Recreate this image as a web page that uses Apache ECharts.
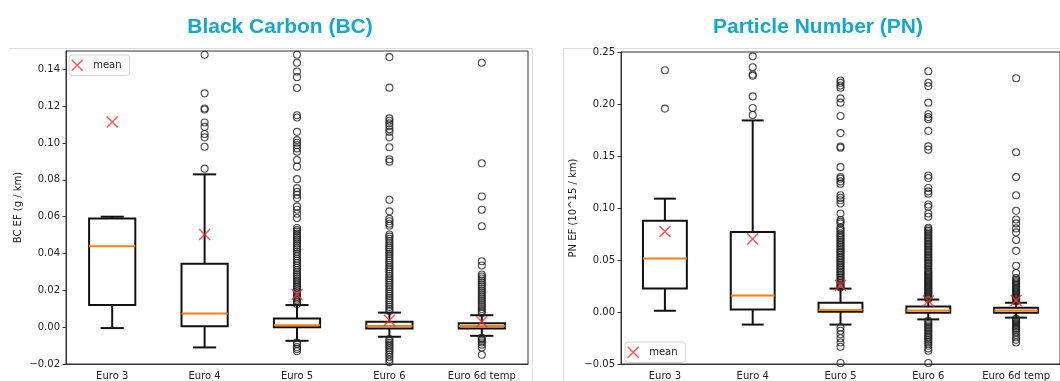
<!DOCTYPE html>
<html>
<head>
<meta charset="utf-8">
<script src="https://cdn.jsdelivr.net/npm/echarts@6/dist/echarts.min.js"></script>
<style>
  html, body { margin: 0; padding: 0; background: #fff; }
  #chart { width: 1060px; height: 381px; }
</style>
</head>
<body>
<div id="chart"></div>
<script>
// categories shared by both panels
const categories = ["Euro 3", "Euro 4", "Euro 5", "Euro 6", "Euro 6d temp"];

// Black Carbon box stats (g / km)
const bcLow  = [-0.0005, -0.011, -0.0074, -0.0052, -0.0047];
const bcQ1   = [0.012, 0.0005, 0.0, -0.0007, -0.0007];
const bcMed  = [0.044, 0.0074, 0.0011, 0.0007, 0.0007];
const bcQ3   = [0.059, 0.0344, 0.0047, 0.003, 0.0022];
const bcHigh = [0.060, 0.083, 0.012, 0.0079, 0.0065];
const bcMean = [0.1115, 0.0503, 0.0178, 0.0038, 0.0029];

// Black Carbon outliers per category
const bcOutEuro3 = [];
const bcOutEuro4 = [0.148, 0.127, 0.1188, 0.1182, 0.1112, 0.1088, 0.1049, 0.1031, 0.098, 0.0861];
const bcOutEuro5 = [0.148, 0.1436, 0.1389, 0.1358, 0.1299, 0.1151, 0.1139, 0.1061, 0.1016, 0.1002,
  0.0989, 0.0971, 0.0953, 0.0908, 0.0872, 0.0804, 0.0755, 0.0735, 0.0719, 0.0701, 0.0656, 0.0638,
  0.0616, 0.0593, 0.0539, 0.0528, 0.0519, 0.0508, 0.0497, 0.0486, 0.0476, 0.0465, 0.0454, 0.0443,
  0.0432, 0.0422, 0.041, 0.0398, 0.0385, 0.0372, 0.036, 0.0348, 0.0335, 0.0322, 0.031, 0.0298,
  0.0287, 0.0276, 0.0265, 0.0255, 0.0246, 0.0236, 0.0226, 0.0216, 0.0205, 0.0195, 0.0185, 0.0175,
  0.0165, 0.0155, 0.0145, 0.0135, 0.0126,
  -0.0083, -0.0092, -0.0108, -0.0118, -0.013];
const bcOutEuro6 = [0.1467, 0.1301, 0.1134, 0.1121, 0.1107, 0.1092, 0.1075, 0.1061, 0.1031, 0.0977,
  0.0912, 0.0899, 0.0692, 0.0629, 0.0588, 0.0575, 0.0562, 0.0551, 0.0503, 0.0492, 0.048, 0.0468,
  0.0456, 0.0444, 0.0432, 0.0422, 0.041, 0.0398, 0.0386, 0.0374, 0.0362, 0.035, 0.0338, 0.0326,
  0.0314, 0.0302, 0.029, 0.0278, 0.0266, 0.0254, 0.0242, 0.023, 0.0218, 0.0206, 0.0194, 0.0182,
  0.017, 0.0158, 0.0146, 0.0134, 0.0122, 0.011, 0.0098, 0.0088,
  -0.0065, -0.0075, -0.0085, -0.0095, -0.0105, -0.0115, -0.0125, -0.0135, -0.0148, -0.0162,
  -0.0176, -0.019];
const bcOutEuro6d = [0.1436, 0.089, 0.071, 0.0638, 0.0548, 0.0358, 0.0335, 0.0286, 0.0275, 0.0264,
  0.0253, 0.0242, 0.0231, 0.022, 0.0209, 0.0198, 0.0187, 0.0176, 0.0165, 0.0154, 0.0143, 0.0132,
  0.0121, 0.011, 0.0099, 0.0088, 0.0077,
  -0.0058, -0.0065, -0.0074, -0.0083, -0.0095, -0.011, -0.015];

// Particle Number box stats (10^15 / km)
const pnLow  = [0.0012, -0.0121, -0.0121, -0.0071, -0.0054];
const pnQ1   = [0.0225, 0.0025, 0.0003, -0.0007, -0.0007];
const pnMed  = [0.0515, 0.0158, 0.0019, 0.0015, 0.0015];
const pnQ3   = [0.0878, 0.0769, 0.0089, 0.0054, 0.0041];
const pnHigh = [0.109, 0.1842, 0.0225, 0.012, 0.0089];
const pnMean = [0.0773, 0.0702, 0.0254, 0.0105, 0.0111];

// Particle Number outliers per category
const pnOutEuro3 = [0.2325, 0.1956];
const pnOutEuro4 = [0.2458, 0.2353, 0.2283, 0.2271, 0.2073, 0.1962, 0.1895];
const pnOutEuro5 = [0.2226, 0.2204, 0.2178, 0.2156, 0.2054, 0.2013, 0.1885, 0.172, 0.159, 0.158,
  0.1393, 0.1298, 0.1282, 0.1256, 0.1234, 0.1122, 0.1097, 0.1074, 0.1043, 0.0947, 0.0884, 0.0868,
  0.0852, 0.0811, 0.0795, 0.0779, 0.0757, 0.074, 0.0725, 0.0709, 0.0693, 0.0677, 0.0661, 0.0645,
  0.063, 0.0613, 0.0597, 0.0582, 0.0566, 0.055, 0.0534, 0.0518, 0.0502, 0.0486, 0.047, 0.0455,
  0.0439, 0.0422, 0.0406, 0.039, 0.0375, 0.036, 0.0344, 0.0328, 0.0311, 0.0296, 0.028, 0.0264,
  0.0248, 0.0236,
  -0.015, -0.018, -0.0214, -0.0252, -0.0293, -0.0334, -0.049];
const pnOutEuro6 = [0.2315, 0.2204, 0.2172, 0.2013, 0.1902, 0.1874, 0.1854, 0.1742, 0.1593, 0.1561,
  0.1313, 0.1288, 0.1193, 0.116, 0.1138, 0.1033, 0.1011, 0.0947, 0.0916, 0.081, 0.0795, 0.078,
  0.0765, 0.075, 0.0735, 0.072, 0.0705, 0.069, 0.0675, 0.066, 0.0645, 0.063, 0.0615, 0.06, 0.0585,
  0.057, 0.0555, 0.054, 0.0525, 0.051, 0.0495, 0.048, 0.0465, 0.045, 0.0435, 0.042, 0.0405, 0.039,
  0.0378, 0.0366, 0.0354, 0.0342, 0.033, 0.0318, 0.0306, 0.0294, 0.0282, 0.027, 0.0258, 0.0246,
  0.0234, 0.0222, 0.021, 0.0198, 0.0186, 0.0174, 0.0162, 0.015, 0.0138, 0.0126,
  -0.0085, -0.01, -0.0115, -0.013, -0.0145, -0.016, -0.0175, -0.019, -0.0205, -0.022, -0.0235,
  -0.025, -0.0268, -0.0285, -0.0305, -0.0325, -0.035, -0.0372, -0.049];
const pnOutEuro6d = [0.2248, 0.1536, 0.1298, 0.1122, 0.0973, 0.089, 0.0852, 0.0804, 0.0766, 0.0693,
  0.0588, 0.0445, 0.0375, 0.0327, 0.0312, 0.0298, 0.0285, 0.0272, 0.026, 0.0248, 0.0236, 0.0224,
  0.0212, 0.02, 0.0188, 0.0176, 0.0164, 0.0153, 0.0142, 0.0131, 0.012, 0.011, 0.01,
  -0.0065, -0.0078, -0.009, -0.0102, -0.0114, -0.0126, -0.0138, -0.015, -0.0162, -0.0175, -0.0195,
  -0.022, -0.0245, -0.0268, -0.0293];

// tick labels
const bcTicks = [-0.02, 0.0, 0.02, 0.04, 0.06, 0.08, 0.10, 0.12, 0.14];
const pnTicks = [-0.05, 0.0, 0.05, 0.10, 0.15, 0.20, 0.25];

const bcOutliers = [bcOutEuro3, bcOutEuro4, bcOutEuro5, bcOutEuro6, bcOutEuro6d];
const pnOutliers = [pnOutEuro3, pnOutEuro4, pnOutEuro5, pnOutEuro6, pnOutEuro6d];

const FONT = "DejaVu Sans";
const MEAN_RED = "#ff2a2a";
const X_PATH = "path://M0,0L10,10M10,0L0,10";

function boxRows(low, q1, med, q3, high) {
  return categories.map((c, i) => [i, low[i], q1[i], med[i], q3[i], high[i]]);
}

function pointRows(groups) {
  const rows = [];
  groups.forEach((vals, i) => vals.forEach(v => rows.push([i, v])));
  return rows;
}

function renderBox(params, api) {
  const i = api.value(0);
  const low = api.coord([i, api.value(1)]);
  const q1 = api.coord([i, api.value(2)]);
  const med = api.coord([i, api.value(3)]);
  const q3 = api.coord([i, api.value(4)]);
  const high = api.coord([i, api.value(5)]);
  const band = api.size([1, 0])[0];
  const x = low[0];
  const half = band * 0.25;
  const cap = band * 0.125;
  const ink = { stroke: "#111", lineWidth: 2, fill: null };
  return {
    type: "group",
    children: [
      { type: "line", shape: { x1: x, y1: high[1], x2: x, y2: q3[1] }, style: ink },
      { type: "line", shape: { x1: x, y1: q1[1], x2: x, y2: low[1] }, style: ink },
      { type: "line", shape: { x1: x - cap, y1: high[1], x2: x + cap, y2: high[1] }, style: ink },
      { type: "line", shape: { x1: x - cap, y1: low[1], x2: x + cap, y2: low[1] }, style: ink },
      { type: "rect", shape: { x: x - half, y: q3[1], width: half * 2, height: q1[1] - q3[1] }, style: ink },
      { type: "line", shape: { x1: x - half, y1: med[1], x2: x + half, y2: med[1] },
        style: { stroke: "#ff7f0e", lineWidth: 2 } }
    ]
  };
}

function tickFmt(v) {
  return v.toFixed(2).replace("-", "\u2212");
}

function makeX(gridIndex) {
  return {
    type: "category",
    gridIndex: gridIndex,
    data: categories,
    axisLine: { onZero: false, lineStyle: { color: "#333", width: 1 } },
    axisTick: { alignWithLabel: true, length: 3.5, lineStyle: { color: "#333" } },
    axisLabel: { interval: 0, fontFamily: FONT, fontSize: 10, color: "#222", margin: 7 }
  };
}

function makeY(gridIndex, min, max, ticks, name) {
  return {
    type: "value",
    gridIndex: gridIndex,
    min: min,
    max: max,
    name: name,
    nameLocation: "middle",
    nameGap: 43,
    nameTextStyle: { fontFamily: FONT, fontSize: 10, color: "#222" },
    splitLine: { show: false },
    axisLine: { show: true, lineStyle: { color: "#333", width: 1 } },
    axisTick: { show: true, length: 3.5, lineStyle: { color: "#333" }, customValues: ticks },
    axisLabel: { fontFamily: FONT, fontSize: 10, color: "#222", margin: 6,
      customValues: ticks, formatter: tickFmt }
  };
}

function meanLegend(left, top) {
  return {
    left: left,
    top: top,
    orient: "vertical",
    padding: [4, 8, 4, 2],
    itemWidth: 22,
    itemHeight: 11,
    backgroundColor: "rgba(255,255,255,0.85)",
    borderColor: "#d0d0d0",
    borderWidth: 1,
    borderRadius: 3,
    selectedMode: false,
    textStyle: { fontFamily: FONT, fontSize: 10, color: "#222" },
    data: [{
      name: "mean",
      icon: X_PATH,
      itemStyle: { color: "rgba(0,0,0,0)", borderColor: MEAN_RED, borderWidth: 1.4 }
    }]
  };
}

const chart = echarts.init(document.getElementById("chart"), null, { renderer: "canvas" });

chart.setOption({
  animation: false,
  backgroundColor: "#fff",
  title: [
    { text: "Black Carbon (BC)", left: 280, top: 17, textAlign: "center", padding: 0,
      textStyle: { fontFamily: "Liberation Sans", fontSize: 21, fontWeight: "bold", color: "#19a7c9" } },
    { text: "Particle Number (PN)", left: 818, top: 17, textAlign: "center", padding: 0,
      textStyle: { fontFamily: "Liberation Sans", fontSize: 21, fontWeight: "bold", color: "#19a7c9" } }
  ],
  graphic: [
    { type: "polyline", silent: true, shape: { points: [[9, 48.5], [532.5, 48.5], [532.5, 381]] },
      style: { stroke: "#dcdcdc", lineWidth: 1, fill: null } },
    { type: "polyline", silent: true, shape: { points: [[563.5, 381], [563.5, 48.5], [1060, 48.5]] },
      style: { stroke: "#dcdcdc", lineWidth: 1, fill: null } }
  ],
  legend: [meanLegend(69, 55), meanLegend(625, 342)],
  grid: [
    { left: 66, top: 51, width: 462, height: 314, show: true, borderColor: "#333", borderWidth: 1,
      backgroundColor: "transparent" },
    { left: 621, top: 52, width: 449, height: 315, show: true, borderColor: "#333", borderWidth: 1,
      backgroundColor: "transparent" }
  ],
  xAxis: [makeX(0), makeX(1)],
  yAxis: [
    makeY(0, -0.02, 0.15, bcTicks, "BC EF (g / km)"),
    makeY(1, -0.05, 0.25, pnTicks, "PN EF (10^15 / km)")
  ],
  series: [
    {
      type: "custom", name: "bcBox", xAxisIndex: 0, yAxisIndex: 0, z: 2,
      renderItem: renderBox, encode: { x: 0, y: [1, 2, 3, 4, 5] },
      data: boxRows(bcLow, bcQ1, bcMed, bcQ3, bcHigh)
    },
    {
      type: "scatter", name: "bcOut", xAxisIndex: 0, yAxisIndex: 0, z: 3,
      symbol: "circle", symbolSize: 7,
      itemStyle: { color: "rgba(0,0,0,0)", borderColor: "#222", borderWidth: 1.1 },
      data: pointRows(bcOutliers)
    },
    {
      type: "scatter", name: "mean", xAxisIndex: 0, yAxisIndex: 0, z: 4,
      symbol: X_PATH, symbolSize: 11,
      itemStyle: { color: "rgba(0,0,0,0)", borderColor: MEAN_RED, borderWidth: 1.4 },
      data: bcMean.map((v, i) => [i, v])
    },
    {
      type: "custom", name: "pnBox", xAxisIndex: 1, yAxisIndex: 1, z: 2,
      renderItem: renderBox, encode: { x: 0, y: [1, 2, 3, 4, 5] },
      data: boxRows(pnLow, pnQ1, pnMed, pnQ3, pnHigh)
    },
    {
      type: "scatter", name: "pnOut", xAxisIndex: 1, yAxisIndex: 1, z: 3,
      symbol: "circle", symbolSize: 7,
      itemStyle: { color: "rgba(0,0,0,0)", borderColor: "#222", borderWidth: 1.1 },
      data: pointRows(pnOutliers)
    },
    {
      type: "scatter", name: "mean", xAxisIndex: 1, yAxisIndex: 1, z: 4,
      symbol: X_PATH, symbolSize: 11,
      itemStyle: { color: "rgba(0,0,0,0)", borderColor: MEAN_RED, borderWidth: 1.4 },
      data: pnMean.map((v, i) => [i, v])
    }
  ]
});

window.addEventListener("resize", () => chart.resize());
</script>
</body>
</html>
